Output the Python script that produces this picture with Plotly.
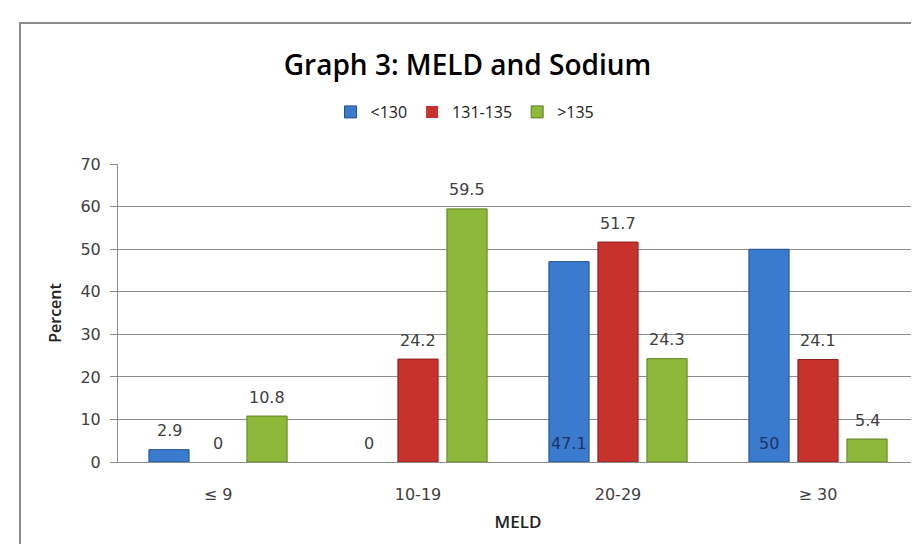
import plotly.graph_objects as go

categories = ["≤ 9", "10-19", "20-29", "≥ 30"]
series_names = ["<130", "131-135", ">135"]
values_lt130 = [2.9, 0, 47.1, 50]
values_131_135 = [0, 24.2, 51.7, 24.1]
values_gt135 = [10.8, 59.5, 24.3, 5.4]

colors = ["#3A7BCE", "#C8322E", "#8DB93A"]
line_colors = ["#24508F", "#8A1F1C", "#5E7F22"]

W, H = 919, 544
L, R, T, B = 110, 9, 156, 90
pw, ph = W - L - R, H - T - B
BARGAP, GROUPGAP = 0.265, 0.18
slot_px = pw / len(categories) * (1 - BARGAP) / 3

def px_to_paper_x(px):
    return (px - L) / pw

def px_to_paper_y(py):
    return (H - B - py) / ph

fig = go.Figure()
all_vals = [values_lt130, values_131_135, values_gt135]
for i, (name, vals) in enumerate(zip(series_names, all_vals)):
    fig.add_trace(go.Bar(
        x=categories, y=vals, name=name,
        marker=dict(color=colors[i],
                    line=dict(color=line_colors[i], width=[1 if v > 0 else 0 for v in vals])),
        hoverinfo="x+y+name",
    ))
    for c, v in zip(categories, vals):
        inside = (i == 0 and v > 40)
        fig.add_annotation(
            x=c, y=0 if inside else v, xref="x", yref="y",
            xshift=(i - 1) * slot_px, yshift=19,
            text=f"{v:g}", showarrow=False, yanchor="middle",
            font=dict(family="DejaVu Sans", size=16,
                      color="#1F3263" if inside else "#404040"),
        )

fig.update_layout(
    width=W, height=H,
    margin=dict(l=L, r=R, t=T, b=B),
    paper_bgcolor="white", plot_bgcolor="white",
    barmode="group", bargap=BARGAP, bargroupgap=GROUPGAP,
    title=dict(text="Graph 3: MELD and Sodium", x=0.5, xref="container",
               y=1 - 57 / H, yanchor="middle",
               font=dict(family="Open Sans", size=28, weight=600, color="#000000")),
    legend=dict(orientation="h", x=px_to_paper_x(457), xanchor="center",
                y=px_to_paper_y(104), yanchor="middle",
                font=dict(family="Open Sans", size=16, color="#222222"),
                itemwidth=30, traceorder="normal"),
    showlegend=True,
    font=dict(family="DejaVu Sans", color="#404040"),
)

fig.update_yaxes(
    range=[0, 70.05], tickvals=[0, 10, 20, 30, 40, 50, 60, 70],
    showgrid=True, gridcolor="#8C8C8C", gridwidth=1,
    showline=True, linecolor="#8C8C8C", linewidth=1,
    ticks="outside", ticklen=7, tickcolor="#8C8C8C",
    ticklabelstandoff=6,
    tickfont=dict(family="DejaVu Sans", size=16, color="#404040"),
    title=dict(text="Percent", font=dict(family="Open Sans", size=16, weight=600, color="#222222"), standoff=14),
    zeroline=False,
)
fig.update_xaxes(
    showline=True, linecolor="#8C8C8C", linewidth=1,
    tickfont=dict(family="DejaVu Sans", size=16, color="#404040"),
    ticklabelstandoff=18,
    title=dict(text="MELD", font=dict(family="Open Sans", size=17, weight=600, color="#222222"), standoff=12),
)

fig.add_shape(type="rect", xref="paper", yref="paper",
              x0=px_to_paper_x(12), x1=px_to_paper_x(930),
              y0=px_to_paper_y(560), y1=px_to_paper_y(15),
              line=dict(color="#8C8C8C", width=2), fillcolor="rgba(0,0,0,0)", layer="below")

fig.write_html("out.html")
